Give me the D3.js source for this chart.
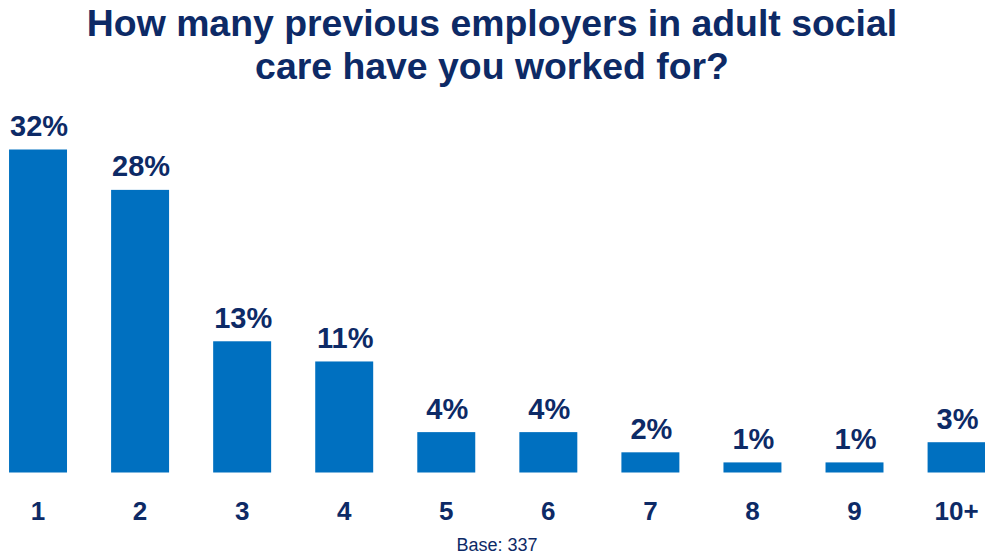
<!DOCTYPE html>
<html>
<head>
<meta charset="utf-8">
<script src="https://cdn.jsdelivr.net/npm/d3@7"></script>
<style>
  html, body { margin: 0; padding: 0; background: #ffffff; }
  svg { display: block; }
  text { font-family: "Liberation Sans", Arial, sans-serif; }
</style>
</head>
<body>
<svg id="chart" width="985" height="555"></svg>
<script>
// Number of previous employers in adult social care (share of respondents, %)
const categories = ["1", "2", "3", "4", "5", "6", "7", "8", "9", "10+"];
const shares = [32, 28, 13, 11, 4, 4, 2, 1, 1, 3];
const titleLines = ["How many previous employers in adult social", "care have you worked for?"];
const baseNote = "Base: 337";

const navy = "#0d2a66";
const barBlue = "#0070c0";

const svg = d3.select("#chart");

const x = d3.scaleBand()
  .domain(categories)
  .range([-13, 1007.6])
  .paddingInner(0.432)
  .paddingOuter(0.216);

const y = d3.scaleLinear()
  .domain([0, 32])
  .range([472.5, 149.5]);

// Title
svg.append("text")
  .attr("x", 492)
  .attr("y", 36)
  .attr("text-anchor", "middle")
  .attr("fill", navy)
  .attr("font-weight", "bold")
  .attr("font-size", 37.4)
  .selectAll("tspan")
  .data(titleLines)
  .join("tspan")
  .attr("x", 492)
  .attr("dy", (d, i) => i === 0 ? 0 : 43)
  .text(d => d);

const data = categories.map((c, i) => ({ cat: c, value: shares[i] }));

// Bars
svg.append("g")
  .selectAll("rect")
  .data(data)
  .join("rect")
  .attr("x", d => x(d.cat))
  .attr("y", d => y(d.value))
  .attr("width", x.bandwidth())
  .attr("height", d => y(0) - y(d.value))
  .attr("fill", barBlue);

// Value labels above bars
svg.append("g")
  .selectAll("text")
  .data(data)
  .join("text")
  .attr("x", d => x(d.cat) + x.bandwidth() / 2 + 1)
  .attr("y", d => y(d.value) - 13.5)
  .attr("text-anchor", "middle")
  .attr("fill", navy)
  .attr("font-weight", "bold")
  .attr("font-size", 29)
  .text(d => d.value + "%");

// Category axis
const axis = svg.append("g")
  .attr("transform", `translate(0, ${y(0)})`)
  .call(d3.axisBottom(x).tickSize(0).tickPadding(0));
axis.select(".domain").remove();
axis.selectAll("text")
  .attr("dy", 0)
  .attr("y", 47.5)
  .attr("fill", navy)
  .attr("font-weight", "bold")
  .attr("font-size", 26)
  .style("font-family", '"Liberation Sans", Arial, sans-serif');

// Base note
svg.append("text")
  .attr("x", 497)
  .attr("y", 551)
  .attr("text-anchor", "middle")
  .attr("fill", navy)
  .attr("font-size", 18)
  .text(baseNote);
</script>
</body>
</html>
